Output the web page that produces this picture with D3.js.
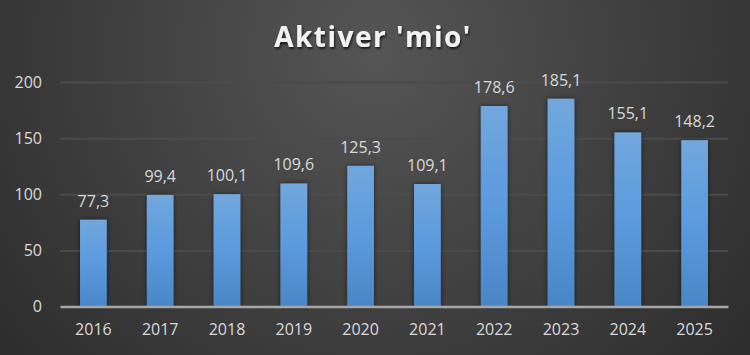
<!DOCTYPE html>
<html>
<head>
<meta charset="utf-8">
<script src="https://cdn.jsdelivr.net/npm/d3@7"></script>
<style>
  html, body { margin: 0; padding: 0; background: #2b2b2b; }
  svg { display: block; }
</style>
</head>
<body>
<svg width="750" height="355"></svg>
<script>
var years = ['2016', '2017', '2018', '2019', '2020', '2021', '2022', '2023', '2024', '2025'];
var values = [77.3, 99.4, 100.1, 109.6, 125.3, 109.1, 178.6, 185.1, 155.1, 148.2];
var yTicks = [0, 50, 100, 150, 200];

var width = 750;
var height = 355;
var margin = {top: 82, right: 22, bottom: 48.5, left: 60};
var plotW = width - margin.left - margin.right;
var plotH = height - margin.top - margin.bottom;

var svg = d3.select('svg');
var defs = svg.append('defs');

// background glow
var bg = defs.append('radialGradient')
    .attr('id', 'bg')
    .attr('cx', '50%').attr('cy', '15%')
    .attr('r', '75%')
    .attr('gradientTransform', 'translate(0.5,0.15) scale(1,2.1) translate(-0.5,-0.15)');
bg.append('stop').attr('offset', '0%').attr('stop-color', '#555555');
bg.append('stop').attr('offset', '100%').attr('stop-color', '#262626');

var barGrad = defs.append('linearGradient')
    .attr('id', 'bar')
    .attr('x1', 0).attr('y1', 0).attr('x2', 0).attr('y2', 1);
barGrad.append('stop').attr('offset', '0%').attr('stop-color', '#71a7dd');
barGrad.append('stop').attr('offset', '50%').attr('stop-color', '#5b9ade');
barGrad.append('stop').attr('offset', '100%').attr('stop-color', '#4a86c6');

var shadow = defs.append('filter').attr('id', 'shadow')
    .attr('x', '-50%').attr('y', '-20%').attr('width', '200%').attr('height', '140%');
shadow.append('feDropShadow')
    .attr('dx', 0).attr('dy', 0).attr('stdDeviation', 2.5)
    .attr('flood-color', '#000').attr('flood-opacity', 0.55);

var tshadow = defs.append('filter').attr('id', 'tshadow');
tshadow.append('feDropShadow')
    .attr('dx', 1).attr('dy', 2).attr('stdDeviation', 1.2)
    .attr('flood-color', '#000').attr('flood-opacity', 0.7);

svg.append('rect')
    .attr('width', width).attr('height', height)
    .attr('fill', 'url(#bg)');

// title
svg.append('text')
    .attr('x', 373).attr('y', 47)
    .attr('text-anchor', 'middle')
    .attr('fill', '#f2f2f2')
    .attr('font-family', 'Open Sans')
    .attr('font-weight', 'bold')
    .attr('font-size', '28px')
    .attr('letter-spacing', '1.5px')
    .attr('filter', 'url(#tshadow)')
    .text("Aktiver 'mio'");

var g = svg.append('g')
    .attr('transform', 'translate(' + margin.left + ',' + margin.top + ')');

var x = d3.scaleBand()
    .domain(years)
    .range([0, plotW])
    .paddingInner(0.6)
    .paddingOuter(0.3);

var y = d3.scaleLinear()
    .domain([0, 200])
    .range([plotH, 0]);

///////////////// grid + y axis /////////////////
var yAxis = d3.axisLeft(y)
    .tickValues(yTicks)
    .tickSize(-plotW)
    .tickPadding(18);

g.append('g')
    .attr('class', 'yaxis')
    .call(yAxis)
    .call(function (s) { s.select('.domain').remove(); })
    .call(function (s) {
        s.selectAll('.tick line')
            .attr('stroke', '#4b4b4b')
            .attr('stroke-width', 2);
        s.selectAll('.tick text')
            .attr('fill', '#d9d9d9')
            .attr('font-family', 'Open Sans')
            .attr('font-size', '16px');
    });

///////////////// bars /////////////////
g.selectAll('.bar')
    .data(values)
    .enter().append('rect')
    .attr('class', 'bar')
    .attr('x', function (d, i) { return x(years[i]); })
    .attr('y', function (d) { return y(d); })
    .attr('width', x.bandwidth())
    .attr('height', function (d) { return plotH - y(d); })
    .attr('fill', 'url(#bar)')
    .attr('filter', 'url(#shadow)');

g.selectAll('.lbl')
    .data(values)
    .enter().append('text')
    .attr('class', 'lbl')
    .attr('x', function (d, i) { return x(years[i]) + x.bandwidth() / 2; })
    .attr('y', function (d) { return y(d) - 13; })
    .attr('text-anchor', 'middle')
    .attr('fill', '#d9d9d9')
    .attr('font-family', 'Open Sans')
    .attr('font-size', '16px')
    .text(function (d) { return d.toFixed(1).replace('.', ','); });

///////////////// x axis /////////////////
var xAxis = d3.axisBottom(x).tickSize(0).tickPadding(17);

g.append('g')
    .attr('class', 'xaxis')
    .attr('transform', 'translate(0,' + plotH + ')')
    .call(xAxis)
    .call(function (s) {
        s.select('.domain')
            .attr('stroke', '#a6a6a6')
            .attr('stroke-width', 2.5);
        s.selectAll('.tick text')
            .attr('fill', '#d9d9d9')
            .attr('font-family', 'Open Sans')
            .attr('font-size', '16px');
    });
</script>
</body>
</html>
